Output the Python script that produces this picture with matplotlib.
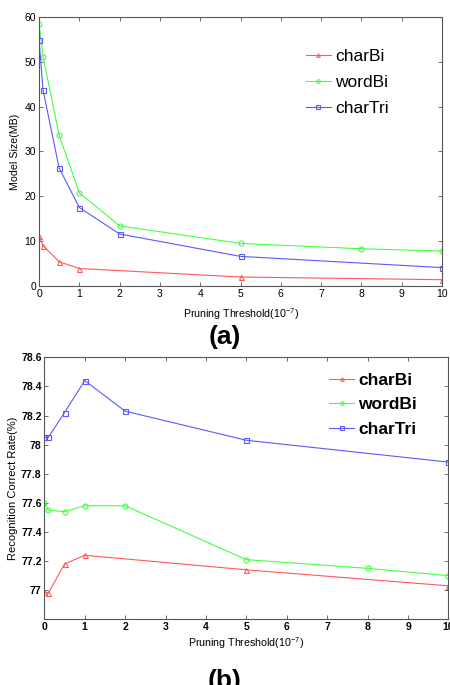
import matplotlib
matplotlib.use("Agg")
import matplotlib.pyplot as plt

plt.rcParams['font.family'] = ['Liberation Sans', 'DejaVu Sans']
plt.rcParams['mathtext.fontset'] = 'custom'
plt.rcParams['mathtext.rm'] = 'Liberation Sans'

# (a) model size
xa_bi = [0, 0.1, 0.5, 1, 5, 10]
size_charbi = [11.2, 9.0, 5.4, 3.9, 2.0, 1.4]
xa_word = [0, 0.1, 0.5, 1, 2, 5, 8, 10]
size_wordbi = [58.5, 51.1, 33.6, 20.8, 13.4, 9.5, 8.3, 7.8]
xa_tri = [0, 0.1, 0.5, 1, 2, 5, 10]
size_chartri = [54.9, 43.7, 26.3, 17.5, 11.6, 6.6, 4.1]

# (b) recognition rate
xb_bi = [0, 0.1, 0.5, 1, 5, 10]
rate_charbi = [76.99, 76.98, 77.18, 77.24, 77.14, 77.03]
xb_word = [0, 0.1, 0.5, 1, 2, 5, 8, 10]
rate_wordbi = [77.60, 77.55, 77.54, 77.58, 77.58, 77.21, 77.15, 77.10]
xb_tri = [0, 0.1, 0.5, 1, 2, 5, 10]
rate_chartri = [78.05, 78.05, 78.22, 78.44, 78.23, 78.03, 77.88]

red = '#ff5a5a'
green = '#44ff44'
blue = '#5a5aff'
xlab = 'Pruning Threshold(10$^{-7}$)'

fig = plt.figure(figsize=(4.5, 6.85), dpi=100)

def style_axes(ax, bold):
    for s in ax.spines.values():
        s.set_color('#555555')
        s.set_linewidth(0.8)
    ax.tick_params(direction='in', top=True, right=True, length=3,
                   width=0.6, color='#555555', labelsize=7.5, pad=2)
    if bold:
        for t in ax.get_xticklabels() + ax.get_yticklabels():
            t.set_fontweight('bold')

def draw(ax, xs, ys, c, m, lab):
    ax.plot(xs, ys, color=c, lw=0.8, marker=m, ms=3.6, mfc='none',
            mec=c, mew=0.8, label=lab)

# ---- top
ax1 = fig.add_axes([0.0867, 0.5825, 0.8956, 0.3927])
draw(ax1, xa_bi, size_charbi, red, '^', 'charBi')
draw(ax1, xa_word, size_wordbi, green, 'o', 'wordBi')
draw(ax1, xa_tri, size_chartri, blue, 's', 'charTri')
ax1.set_xlim(0, 10)
ax1.set_ylim(0, 60)
ax1.set_xticks(range(0, 11))
ax1.set_yticks(range(0, 61, 10))
style_axes(ax1, False)
ax1.set_xlabel(xlab, fontsize=7.7, labelpad=5)
ax1.set_ylabel('Model Size(MB)', fontsize=7.7, labelpad=3)
ax1.legend(loc='upper left', bbox_to_anchor=(0.623, 0.94), frameon=False,
           fontsize=12.5, handlelength=1.45, markerscale=0.7,
           labelspacing=0.63, handletextpad=0.25)

# ---- bottom
ax2 = fig.add_axes([0.0985, 0.0959, 0.898, 0.3825])
draw(ax2, xb_bi, rate_charbi, red, '^', 'charBi')
draw(ax2, xb_word, rate_wordbi, green, 'o', 'wordBi')
draw(ax2, xb_tri, rate_chartri, blue, 's', 'charTri')
ax2.set_xlim(0, 10)
ax2.set_ylim(76.8, 78.6)
ax2.set_xticks(range(0, 11))
ax2.set_yticks([77, 77.2, 77.4, 77.6, 77.8, 78, 78.2, 78.4, 78.6])
ax2.set_yticklabels(['77', '77.2', '77.4', '77.6', '77.8', '78', '78.2', '78.4', '78.6'])
style_axes(ax2, True)
ax2.set_xlabel(xlab, fontsize=7.7, labelpad=2)
ax2.set_ylabel('Recognition Correct Rate(%)', fontsize=8, labelpad=2)
ax2.legend(loc='upper left', bbox_to_anchor=(0.667, 1.0), frameon=False,
           handlelength=1.4, markerscale=0.7,
           labelspacing=0.53, handletextpad=0.25,
           prop={'weight': 'bold', 'size': 12.5})

fig.text(0.5, 1 - 325 / 685, '(a)', ha='center', va='top',
         fontsize=19, fontweight='bold')
fig.text(0.5, 1 - 669 / 685, '(b)', ha='center', va='top',
         fontsize=19, fontweight='bold')

fig.savefig('out.png', dpi=100)
